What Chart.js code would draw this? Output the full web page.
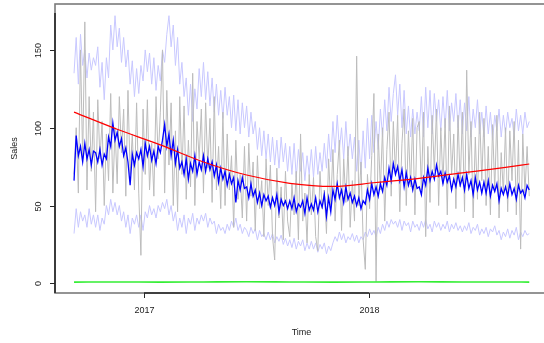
<!DOCTYPE html>
<html>
<head>
<meta charset="utf-8">
<script src="https://cdn.jsdelivr.net/npm/chart.js@4.4.1/dist/chart.umd.min.js"></script>
<style>
  html, body { margin: 0; padding: 0; background: #fff; overflow: hidden; }
  #wrap { width: 560px; height: 343px; }
</style>
</head>
<body>
<div id="wrap"><canvas id="salesChart" width="560" height="343"></canvas></div>
<script>
// series sampled twice a week, starting early September 2016
const startYear = 2016.689;
const stepYears = 3.5 / 365;

const sales = [
  70, 100, 58, 150, 80, 168, 60, 120, 72, 110,
  46, 118, 80, 104, 50, 96, 66, 122, 58, 100,
  64, 120, 84, 112, 56, 124, 70, 96, 60, 116,
  58, 18, 112, 70, 118, 60, 90, 56, 120, 80,
  110, 150, 58, 124, 76, 116, 50, 98, 46, 120,
  70, 114, 54, 92, 62, 135, 50, 104, 80, 112,
  58, 116, 74, 106, 52, 120, 60, 88, 48, 110,
  50, 96, 60, 82, 36, 92, 54, 70, 42, 88,
  40, 90, 56, 78, 34, 82, 48, 66, 30, 80,
  50, 76, 30, 15, 74, 42, 62, 28, 72, 40,
  30, 64, 44, 72, 28, 96, 40, 58, 26, 70,
  44, 68, 30, 21, 72, 48, 60, 32, 80, 50,
  86, 40, 70, 92, 34, 80, 52, 88, 36, 66,
  40, 146, 50, 78, 28, 9, 70, 48, 82, 122,
  1, 96, 60, 100, 40, 86, 110, 56, 104, 70,
  108, 46, 90, 112, 50, 98, 62, 106, 44, 100,
  104, 60, 110, 30, 88, 52, 108, 72, 112, 50,
  100, 64, 106, 44, 114, 70, 96, 48, 108, 62,
  110, 46, 137, 70, 104, 42, 94, 54, 110, 66,
  106, 50, 88, 44, 102, 60, 108, 42, 84, 58,
  100, 46, 98, 66, 104, 44, 92, 22, 96, 58, 88, 56
];

const fitted = [
  66, 95, 82, 88, 78, 90, 80, 86, 76, 85,
  84, 78, 86, 76, 83, 80, 94, 88, 103, 92,
  97, 88, 93, 82, 87, 78, 63, 83, 76, 84,
  80, 86, 75, 90, 82, 88, 79, 85, 77, 88,
  84, 92, 102, 88, 96, 82, 92, 77, 86, 74,
  78, 70, 80, 67, 77, 72, 82, 70, 78, 73,
  82, 72, 80, 73, 78, 69, 76, 65, 74, 67,
  72, 63, 70, 64, 68, 52, 66, 60, 68, 61,
  62, 55, 64, 56, 60, 52, 58, 50, 57, 53,
  56, 49, 55, 50, 57, 46, 54, 50, 53, 48,
  53, 48, 55, 46, 51, 49, 53, 45, 55, 47,
  51, 47, 55, 46, 53, 49, 57, 43, 55, 46,
  60, 54, 64, 55, 60, 52, 62, 54, 58, 52,
  56, 50, 55, 48, 53, 51, 60, 54, 64, 57,
  62, 56, 64, 59, 68, 63, 74, 66, 77, 70,
  75, 66, 73, 62, 71, 63, 68, 60, 67, 61,
  62, 57, 68, 63, 74, 66, 72, 67, 76, 69,
  72, 64, 71, 65, 69, 60, 67, 62, 70, 63,
  68, 60, 70, 61, 66, 57, 68, 60, 65, 58,
  65, 58, 66, 56, 63, 59, 64, 53, 61, 57,
  62, 56, 64, 57, 61, 54, 63, 58, 60, 55, 63, 60
];

const upper = [
  135, 158, 128, 160, 140, 150, 132, 148, 137, 145,
  140, 152, 126, 142, 118, 145, 132, 166, 150, 172,
  152, 164, 142, 158, 139, 150, 128, 143, 120, 138,
  122, 140, 130, 150, 136, 148, 128, 145, 124, 140,
  130, 150, 142, 160, 172, 152, 166, 140, 158, 128,
  142, 120, 132, 108, 128, 104, 125, 112, 138, 120,
  142, 118, 136, 114, 132, 110, 128, 108, 124, 106,
  126, 108, 120, 100, 121, 98, 118, 96, 116, 100,
  114, 94, 110, 96, 104, 86, 100, 82, 98, 80,
  96, 78, 94, 76, 92, 74, 94, 78, 90, 72,
  88, 70, 90, 68, 86, 72, 84, 66, 82, 70,
  86, 68, 88, 70, 84, 72, 90, 74, 96, 78,
  104, 84, 108, 86, 100, 80, 104, 82, 96, 80,
  94, 72, 92, 70, 98, 74, 106, 80, 108, 84,
  104, 86, 112, 94, 118, 98, 126, 104, 122, 134,
  108, 128, 100, 124, 96, 114, 94, 112, 96, 110,
  98, 120, 94, 126, 100, 124, 96, 122, 104, 118,
  98, 120, 100, 124, 98, 116, 104, 122, 100, 118,
  96, 116, 98, 120, 94, 112, 100, 118, 96, 110,
  94, 114, 96, 110, 92, 108, 98, 112, 94, 108,
  96, 110, 100, 106, 94, 112, 98, 108, 96, 110, 100, 104
];

const lower = [
  32, 48, 36, 46, 40, 44, 36, 48, 38, 44,
  36, 44, 34, 42, 38, 50, 44, 54, 46, 52,
  44, 50, 40, 46, 36, 44, 32, 42, 38, 44,
  36, 44, 34, 46, 42, 50, 44, 48, 42, 50,
  46, 52, 48, 54, 44, 50, 40, 46, 34, 42,
  36, 44, 32, 42, 38, 45, 34, 42, 38, 44,
  40, 45, 36, 42, 38, 40, 32, 38, 34, 36,
  32, 38, 34, 40, 36, 42, 34, 38, 32, 36,
  34, 30, 36, 32, 35, 28, 34, 30, 32, 28,
  33, 28, 32, 26, 30, 27, 31, 25, 29, 24,
  28, 23, 29, 22, 27, 24, 28, 21, 26, 22,
  27, 22, 26, 20, 25, 22, 26, 19, 24, 21,
  26, 30, 27, 33, 28, 32, 26, 30, 28, 32,
  27, 31, 26, 30, 28, 33, 30, 35, 31, 34,
  30, 36, 32, 38, 34, 40, 36, 41, 38, 40,
  36, 41, 34, 40, 37, 39, 33, 40, 36, 38,
  34, 40, 36, 41, 35, 38, 33, 40, 36, 39,
  34, 38, 35, 40, 33, 38, 35, 39, 34, 37,
  33, 37, 34, 39, 32, 36, 34, 38, 31, 35,
  32, 36, 30, 35, 33, 37, 31, 34, 28, 33,
  30, 35, 29, 34, 31, 36, 28, 33, 30, 34, 31, 32
];

// smooth trend and near-zero level, given at every 20th sample
const trendIdx = [0, 20, 40, 60, 80, 100, 120, 140, 160, 180, 200, 211];
const trend = [110, 99, 89, 78, 69.6, 64.3, 62.3, 64.8, 67.5, 71, 74.5, 76.7];
const level = [0.8, 0.9, 0.8, 0.9, 1.0, 0.9, 0.8, 0.9, 1.0, 0.9, 0.9, 0.8];

const yTicks = [0, 50, 100, 150];
const xTicks = [2017, 2018];

function toPoints(vals, idx) {
  return vals.map((v, i) => ({ x: startYear + (idx ? idx[i] : i) * stepYears, y: v }));
}

function series(data, color, width, order, tension) {
  return {
    data: data,
    borderColor: color,
    borderWidth: width,
    pointRadius: 0,
    fill: false,
    tension: tension || 0,
    cubicInterpolationMode: tension ? "monotone" : "default",
    order: order,
  };
}

// R-style box, axes and labels
const rAxes = {
  id: "rAxes",
  afterDraw(chart) {
    const ctx = chart.ctx;
    const a = chart.chartArea;
    const sx = chart.scales.x;
    const sy = chart.scales.y;
    ctx.save();
    ctx.strokeStyle = "#7a7a7a";
    ctx.lineWidth = 1.6;
    ctx.strokeRect(a.left, a.top, a.right - a.left, a.bottom - a.top);

    ctx.strokeStyle = "#262626";
    ctx.lineWidth = 1.6;
    ctx.beginPath();
    ctx.moveTo(sx.getPixelForValue(xTicks[0]), a.bottom);
    ctx.lineTo(sx.getPixelForValue(xTicks[xTicks.length - 1]), a.bottom);
    ctx.moveTo(a.left, a.top + 9);
    ctx.lineTo(a.left, a.bottom);
    ctx.stroke();

    ctx.lineWidth = 1;
    ctx.fillStyle = "#222";
    ctx.font = "9px 'Liberation Sans', Arial, sans-serif";
    ctx.textAlign = "center";
    ctx.textBaseline = "middle";
    xTicks.forEach((t) => {
      const px = Math.round(sx.getPixelForValue(t)) + 0.5;
      ctx.beginPath();
      ctx.moveTo(px, a.bottom);
      ctx.lineTo(px, a.bottom + 5);
      ctx.stroke();
      ctx.fillText(String(t), px, a.bottom + 18);
    });
    yTicks.forEach((v) => {
      const py = Math.round(sy.getPixelForValue(v)) + 0.5;
      ctx.beginPath();
      ctx.moveTo(a.left, py);
      ctx.lineTo(a.left - 5, py);
      ctx.stroke();
      ctx.save();
      ctx.translate(a.left - 16, py);
      ctx.rotate(-Math.PI / 2);
      ctx.fillText(String(v), 0, 0);
      ctx.restore();
    });

    ctx.fillText("Time", (a.left + a.right) / 2, 333);
    ctx.save();
    ctx.translate(15, (a.top + a.bottom) / 2);
    ctx.rotate(-Math.PI / 2);
    ctx.fillText("Sales", 0, 0);
    ctx.restore();
    ctx.restore();
  },
};

new Chart(document.getElementById("salesChart"), {
  type: "line",
  data: {
    datasets: [
      series(toPoints(trend, trendIdx), "#ff0000", 1.2, 0, 0.4),
      series(toPoints(level, trendIdx), "#33ee33", 1.6, 1, 0.4),
      series(toPoints(fitted), "#0000ff", 1.3, 2),
      series(toPoints(sales), "#bcbcbc", 1, 3),
      series(toPoints(upper), "#c8c8ff", 1, 4),
      series(toPoints(lower), "#c8c8ff", 1, 4),
    ],
  },
  options: {
    responsive: false,
    animation: false,
    events: [],
    layout: { padding: { left: 55, right: 12, top: 4, bottom: 50 } },
    plugins: {
      legend: { display: false },
      tooltip: { enabled: false },
    },
    scales: {
      x: { type: "linear", min: 2016.6044, max: 2018.7956, display: false },
      y: { type: "linear", min: -6.2, max: 179.5, display: false },
    },
  },
  plugins: [rAxes],
});
</script>
</body>
</html>
